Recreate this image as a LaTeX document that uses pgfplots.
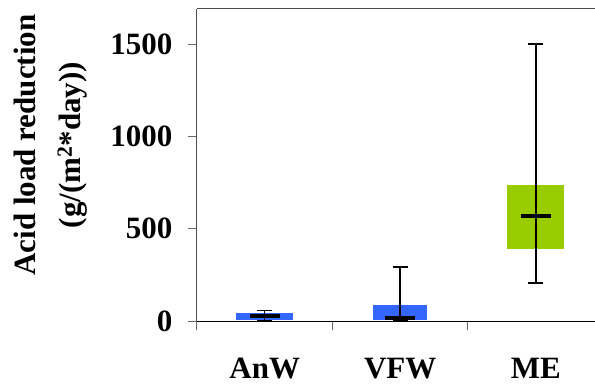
\documentclass[border=0pt]{standalone}
\usepackage{fontspec}
\setmainfont{Liberation Serif}
\usepackage{pgfplots}
\pgfplotsset{compat=1.18}
\definecolor{boxblue}{RGB}{51,102,255}
\definecolor{boxgreen}{RGB}{153,204,0}
\newcommand\bigf{\fontsize{31bp}{45bp}\selectfont\bfseries}
\begin{document}
\begin{tikzpicture}
\begin{axis}[
  name=ax, at={(0,0)}, anchor=south west,
  scale only axis, width=406.5bp, height=312bp,
  xmin=0, xmax=3, ymin=0, ymax=1690,
  axis x line=box, axis y line=left,
  axis line style={-, line width=1bp, black!70},
  xtick pos=lower, ytick pos=left,
  clip=false,
  ytick={0,500,1000,1500},
  tick align=outside,
  major tick length=9bp,
  tick style={black!60, line width=1bp},
  /pgf/number format/assume math mode=true,
  /pgf/number format/set thousands separator={},
  yticklabel style={font=\bigf, xshift=-12bp},
  xtick={0,1,2,3}, xticklabels={,,,},
  extra x ticks={0.5,1.5,2.5},
  extra x tick labels={AnW,VFW,ME},
  extra x tick style={major tick length=0pt, tick style={draw=none},
    tick label style={font=\bigf, yshift=-34bp}},
  ylabel={Acid load reduction\\(g/(m\textsuperscript{2}*day))},
  ylabel style={align=center, font=\bigf, at={(axis description cs:-0.359,0.564)}, anchor=center},
]
% boxes: lower quartile to upper quartile
\addplot[fill=boxblue, draw=none] coordinates {(0.29,5) (0.71,5) (0.71,43) (0.29,43)};
\addplot[fill=boxblue, draw=none] coordinates {(1.30,5) (1.70,5) (1.70,87) (1.30,87)};
\addplot[fill=boxgreen, draw=none] coordinates {(2.29,392) (2.71,392) (2.71,738) (2.29,738)};
% whiskers
\addplot[black, line width=1.5bp, mark=-, mark size=7.5bp, mark options={line width=1.5bp}] coordinates {(0.5,0) (0.5,56)};
\addplot[black, line width=1.5bp, mark=-, mark size=7.5bp, mark options={line width=1.5bp}] coordinates {(1.5,0) (1.5,293)};
\addplot[black, line width=1.5bp, mark=-, mark size=7.5bp, mark options={line width=1.5bp}] coordinates {(2.5,205) (2.5,1500)};
% medians
\addplot[only marks, black, line width=3.5bp, mark=-, mark size=15bp, mark options={line width=3.5bp}] coordinates {(0.5,27) (1.5,15) (2.5,570)};
% zero line
\addplot[black, line width=1bp] coordinates {(0,0) (3,0)};
\end{axis}
\pgfresetboundingbox
\path[use as bounding box] (ax.south west) ++(-197bp,-64bp) rectangle ++(595bp,385bp);
\end{tikzpicture}
\end{document}
